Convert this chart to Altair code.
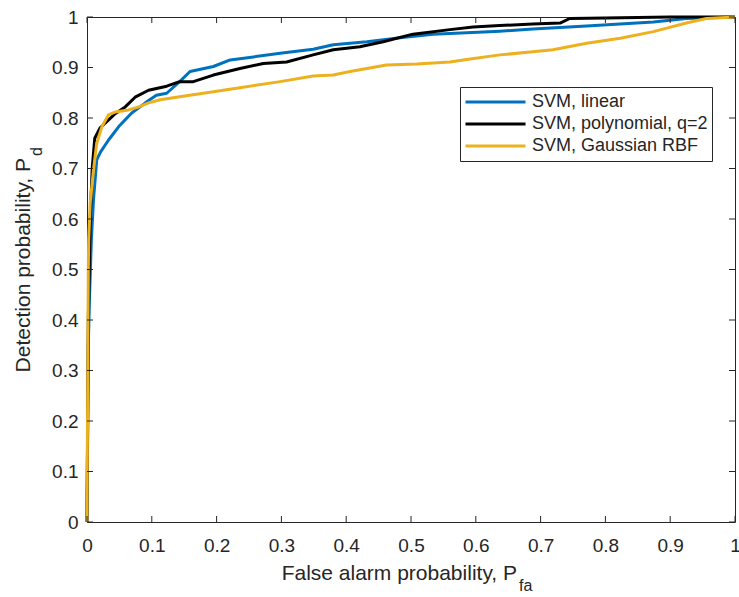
import altair as alt
import pandas as pd

# ---- data ----
series_names = ["SVM, linear", "SVM, polynomial, q=2", "SVM, Gaussian RBF"]
series_colors = ["#0072BD", "#000000", "#EDB120"]

linear_pfa = [0, 0.002, 0.004, 0.0067, 0.010, 0.015, 0.021, 0.033, 0.049, 0.069, 0.090, 0.107,
              0.123, 0.143, 0.159, 0.195, 0.221, 0.257, 0.298, 0.349, 0.380, 0.432, 0.483, 0.534,
              0.586, 0.637, 0.688, 0.771, 0.874, 0.925, 1.0]
linear_pd = [0, 0.35, 0.45, 0.558, 0.638, 0.717, 0.733, 0.756, 0.783, 0.810, 0.830, 0.845,
             0.849, 0.872, 0.892, 0.902, 0.915, 0.921, 0.928, 0.936, 0.945, 0.951, 0.959, 0.966,
             0.969, 0.972, 0.976, 0.982, 0.990, 0.997, 1.0]

poly_pfa = [0, 0.002, 0.005, 0.008, 0.012, 0.020, 0.028, 0.044, 0.059, 0.075, 0.095, 0.123,
            0.143, 0.164, 0.195, 0.236, 0.272, 0.308, 0.349, 0.380, 0.421, 0.457, 0.503, 0.560,
            0.596, 0.637, 0.688, 0.730, 0.745, 0.800, 0.900, 1.0]
poly_pd = [0, 0.40, 0.60, 0.70, 0.76, 0.78, 0.79, 0.809, 0.822, 0.842, 0.855, 0.863,
           0.872, 0.872, 0.885, 0.898, 0.908, 0.911, 0.925, 0.935, 0.941, 0.951, 0.966, 0.975,
           0.980, 0.983, 0.986, 0.988, 0.997, 0.998, 1.0, 1.0]

rbf_pfa = [0, 0.002, 0.0026, 0.005, 0.010, 0.015, 0.023, 0.033, 0.044, 0.064, 0.080, 0.095,
           0.113, 0.143, 0.195, 0.246, 0.298, 0.349, 0.380, 0.406, 0.432, 0.462, 0.509, 0.560,
           0.586, 0.637, 0.688, 0.719, 0.771, 0.823, 0.874, 0.925, 0.956, 1.0]
rbf_pd = [0, 0.50, 0.558, 0.632, 0.697, 0.750, 0.783, 0.806, 0.812, 0.816, 0.822, 0.830,
          0.836, 0.842, 0.852, 0.862, 0.872, 0.883, 0.885, 0.892, 0.898, 0.905, 0.907, 0.911,
          0.916, 0.925, 0.931, 0.935, 0.948, 0.958, 0.971, 0.988, 0.997, 1.0]

x_ticks = [0, 0.1, 0.2, 0.3, 0.4, 0.5, 0.6, 0.7, 0.8, 0.9, 1.0]
y_ticks = [0, 0.1, 0.2, 0.3, 0.4, 0.5, 0.6, 0.7, 0.8, 0.9, 1.0]

# ---- build tables ----
rows = []
for name, xs, ys in zip(series_names, [linear_pfa, poly_pfa, rbf_pfa], [linear_pd, poly_pd, rbf_pd]):
    for i, (a, b) in enumerate(zip(xs, ys)):
        rows.append({"series": name, "pfa": a, "pd": b, "idx": i})
df = pd.DataFrame(rows)
xt = pd.DataFrame({"v": x_ticks})
yt = pd.DataFrame({"v": y_ticks})

W, H = 648, 505
FONT = "Liberation Sans"
TXT = "#262626"
TL = 6
TICKFS = 19
TITLEFS = 21
SUBFS = 16

xscale = alt.Scale(domain=[0, 1], nice=False, zero=False)
yscale = alt.Scale(domain=[0, 1], nice=False, zero=False)

lines = alt.Chart(df).mark_line(strokeWidth=3, strokeJoin="round").encode(
    x=alt.X("pfa:Q", scale=xscale,
            axis=alt.Axis(values=x_ticks, format="~g", title=None, ticks=False, domain=False,
                          grid=False, labelFontSize=TICKFS, labelFont=FONT, labelColor=TXT,
                          labelPadding=14, labelFlush=False)),
    y=alt.Y("pd:Q", scale=yscale,
            axis=alt.Axis(values=y_ticks, format="~g", title=None, ticks=False, domain=False,
                          grid=False, labelFontSize=TICKFS, labelFont=FONT, labelColor=TXT,
                          labelPadding=9, labelFlush=False)),
    color=alt.Color("series:N",
                    scale=alt.Scale(domain=series_names, range=series_colors),
                    legend=alt.Legend(title=None, orient="none", legendX=373, legendY=70,
                                      symbolType="stroke", symbolSize=3600, symbolStrokeWidth=3,
                                      labelFontSize=18, labelFont=FONT, labelColor=TXT,
                                      labelOffset=5, clipHeight=22, rowPadding=0, padding=4,
                                      strokeColor=TXT, fillColor="white", labelLimit=400)),
    order="idx:Q",
)

tick_b = alt.Chart(xt).mark_rule(color=TXT, strokeWidth=1).encode(
    x=alt.X("v:Q", scale=xscale), y=alt.value(H), y2=alt.value(H - TL))
tick_t = alt.Chart(xt).mark_rule(color=TXT, strokeWidth=1).encode(
    x=alt.X("v:Q", scale=xscale), y=alt.value(0), y2=alt.value(TL))
tick_l = alt.Chart(yt).mark_rule(color=TXT, strokeWidth=1).encode(
    y=alt.Y("v:Q", scale=yscale), x=alt.value(0), x2=alt.value(TL))
tick_r = alt.Chart(yt).mark_rule(color=TXT, strokeWidth=1).encode(
    y=alt.Y("v:Q", scale=yscale), x=alt.value(W), x2=alt.value(W - TL))

one = pd.DataFrame({"a": [0]})
xt_main = alt.Chart(one).mark_text(text="False alarm probability, P", font=FONT, fontSize=TITLEFS,
                                    color=TXT, align="right", baseline="alphabetic").encode(
    x=alt.value(430), y=alt.value(563))
xt_sub = alt.Chart(one).mark_text(text="fa", font=FONT, fontSize=SUBFS, color=TXT,
                                   align="left", baseline="alphabetic").encode(
    x=alt.value(432), y=alt.value(574))
yt_main = alt.Chart(one).mark_text(text="Detection probability, P", font=FONT, fontSize=TITLEFS,
                                    color=TXT, align="right", baseline="alphabetic", angle=270).encode(
    x=alt.value(-57), y=alt.value(141))
yt_sub = alt.Chart(one).mark_text(text="d", font=FONT, fontSize=SUBFS, color=TXT,
                                   align="left", baseline="alphabetic", angle=270).encode(
    x=alt.value(-45), y=alt.value(139))

chart = alt.layer(lines, tick_b, tick_t, tick_l, tick_r, xt_main, xt_sub, yt_main, yt_sub).properties(
    width=W, height=H,
    autosize=alt.AutoSizeParams(type="none"),
    padding={"left": 87, "top": 17, "right": 4, "bottom": 75},
    background="white",
).configure_view(stroke=TXT, strokeWidth=1)

chart.save("out.html", embed_options={"renderer": "svg", "actions": False})
